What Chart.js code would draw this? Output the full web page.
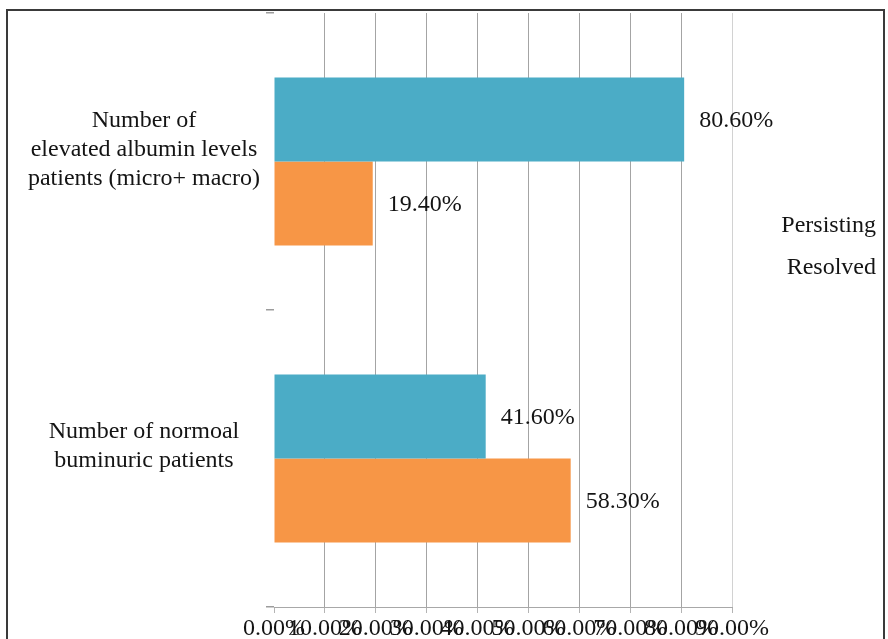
<!DOCTYPE html>
<html lang="en">
<head>
    <meta charset="UTF-8">
    <title>Albumin levels chart</title>
    <script src="https://cdn.jsdelivr.net/npm/chart.js"></script>
    <style>
        html, body {
            margin: 0;
            padding: 0;
            background: #ffffff;
            overflow: hidden;
        }
        .frame {
            position: absolute;
            left: 6px;
            top: 9px;
            width: 875px;
            height: 660px;
            border: 2px solid #3a3a3a;
            background: #ffffff;
        }
        .chart-box {
            position: relative;
            width: 875px;
            height: 640px;
        }
    </style>
</head>
<body>
    <div class="frame">
        <div class="chart-box">
            <canvas id="albuminChart"></canvas>
        </div>
    </div>

    <script>
        // values
        const categories = [
            ['Number of', 'elevated albumin levels', 'patients (micro+ macro)'],
            ['Number of normoal', 'buminuric patients']
        ];
        const persisting = [80.6, 41.6];
        const resolved = [19.4, 58.3];
        const xTicks = [0, 10, 20, 30, 40, 50, 60, 70, 80, 90];

        const serif = "'Liberation Serif', 'Times New Roman', serif";
        const textColor = '#141414';

        // value labels next to each bar end
        const barLabels = {
            id: 'barLabels',
            afterDatasetsDraw(chart) {
                const ctx = chart.ctx;
                ctx.save();
                ctx.font = '24px ' + serif;
                ctx.fillStyle = textColor;
                ctx.textAlign = 'left';
                ctx.textBaseline = 'middle';
                chart.data.datasets.forEach((ds, i) => {
                    chart.getDatasetMeta(i).data.forEach((bar, j) => {
                        ctx.fillText(ds.data[j].toFixed(2) + '%', bar.x + 15, bar.y + 1);
                    });
                });
                ctx.restore();
            }
        };

        // text-only legend on the right, like the original
        const textLegend = {
            id: 'textLegend',
            afterDraw(chart) {
                const ctx = chart.ctx;
                const area = chart.chartArea;
                ctx.save();
                ctx.font = '24px ' + serif;
                ctx.fillStyle = textColor;
                ctx.textAlign = 'right';
                ctx.textBaseline = 'middle';
                chart.data.datasets.forEach((ds, i) => {
                    const y = area.top + (area.bottom - area.top) * 0.358 + i * 42;
                    ctx.fillText(ds.label, chart.width - 7, y);
                });
                ctx.restore();
            }
        };

        new Chart(document.getElementById('albuminChart'), {
            type: 'bar',
            data: {
                labels: categories,
                datasets: [
                    {
                        label: 'Persisting',
                        data: persisting,
                        backgroundColor: '#4BACC6'
                    },
                    {
                        label: 'Resolved',
                        data: resolved,
                        backgroundColor: '#F79646'
                    }
                ]
            },
            options: {
                indexAxis: 'y',
                responsive: true,
                maintainAspectRatio: false,
                animation: false,
                categoryPercentage: 0.566,
                barPercentage: 1.0,
                layout: {
                    padding: { top: 2, right: 151, left: 0, bottom: 0 }
                },
                plugins: {
                    legend: { display: false },
                    tooltip: { enabled: false }
                },
                scales: {
                    x: {
                        type: 'linear',
                        min: xTicks[0],
                        max: xTicks[xTicks.length - 1],
                        afterBuildTicks: scale => {
                            scale.ticks = xTicks.map(v => ({ value: v }));
                        },
                        afterFit: scale => {
                            scale.height = 44;
                            scale.paddingLeft = 0;
                            scale.paddingRight = 0;
                        },
                        ticks: {
                            autoSkip: false,
                            maxRotation: 0,
                            minRotation: 0,
                            padding: 1,
                            color: textColor,
                            font: { family: serif, size: 24 },
                            callback: v => v.toFixed(2) + '%'
                        },
                        grid: {
                            color: ctx => ctx.index === 0 ? 'rgba(0,0,0,0)'
                                : ctx.index === xTicks.length - 1 ? '#d2d2d2' : '#a4a4a4',
                            tickColor: '#b4b4b4',
                            tickLength: 6,
                            lineWidth: 1
                        },
                        border: { color: '#a8a8a8', width: 1 }
                    },
                    y: {
                        afterFit: scale => {
                            scale.width = 266;
                            scale.paddingTop = 0;
                            scale.paddingBottom = 0;
                        },
                        ticks: {
                            crossAlign: 'center',
                            padding: 6,
                            labelOffset: -12,
                            color: textColor,
                            font: { family: serif, size: 24, lineHeight: 1.21 }
                        },
                        grid: {
                            drawOnChartArea: false,
                            offset: true,
                            color: '#9c9c9c',
                            lineWidth: 1.5,
                            tickLength: 8
                        },
                        border: { display: false }
                    }
                }
            },
            plugins: [barLabels, textLegend]
        });
    </script>
</body>
</html>
